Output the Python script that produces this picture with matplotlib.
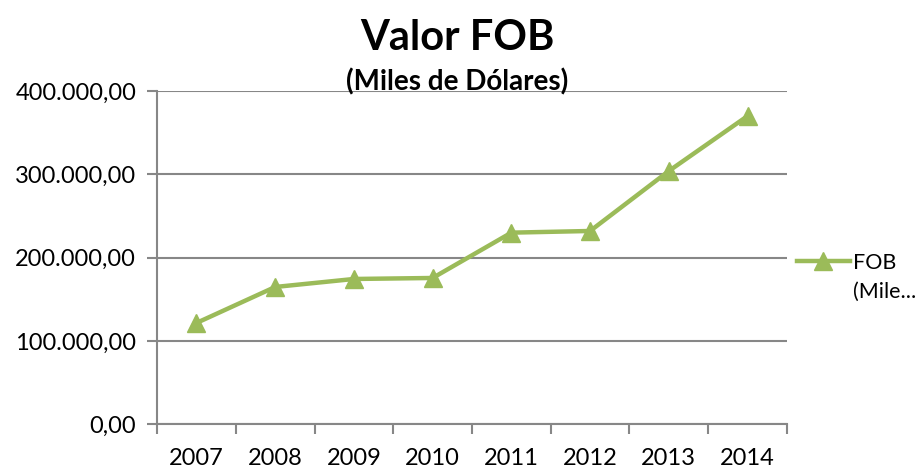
import matplotlib
matplotlib.use("Agg")
import matplotlib.pyplot as plt
from matplotlib.ticker import FuncFormatter, FixedLocator

years = ['2007', '2008', '2009', '2010', '2011', '2012', '2013', '2014']
fob = [121600, 164800, 174400, 175600, 230000, 232000, 304000, 370000]

plt.rcParams['font.family'] = ['Lato', 'DejaVu Sans']
green = '#9BBB59'
grey = '#878787'

fig = plt.figure(figsize=(9.2, 4.69), dpi=100)
ax = fig.add_axes([0.1707, 0.0953, 0.6847, 0.7107])

x = list(range(len(years)))
ax.plot(x, fob, color=green, lw=3.2, marker='^', ms=13, mec=green, mfc=green,
        label='FOB')

ax.set_xlim(-0.5, len(years) - 0.5)
ax.set_ylim(0, 400000)
ax.set_yticks([0, 100000, 200000, 300000, 400000])
ax.yaxis.set_major_formatter(FuncFormatter(
    lambda v, p: f"{v:,.2f}".replace(',', 'X').replace('.', ',').replace('X', '.')))
ax.xaxis.set_major_locator(FixedLocator([i - 0.5 for i in range(len(years) + 1)]))
ax.xaxis.set_minor_locator(FixedLocator(x))
ax.set_xticklabels([])
ax.set_xticklabels(years, minor=True)
ax.tick_params(axis='x', which='minor', length=0, labelsize=17, pad=17)
ax.tick_params(axis='x', which='major', length=7, width=1.5, color=grey)
ax.tick_params(axis='y', length=7, width=1.5, color=grey, labelsize=17, pad=8)

ax.grid(axis='y', color=grey, lw=1.5)
ax.set_axisbelow(True)
for s in ['top', 'right']:
    ax.spines[s].set_visible(False)
for s in ['left', 'bottom']:
    ax.spines[s].set_color(grey)
    ax.spines[s].set_linewidth(1.5)

fig.text(0.497, 0.92, 'Valor FOB', ha='center', va='center', fontsize=30, fontweight='bold')
fig.text(0.497, 0.825, '(Miles de Dólares)', ha='center', va='center', fontsize=20, fontweight='bold')

# legend: handle + first line, truncated second line below it (Excel style)
fig.legend(loc='center left', bbox_to_anchor=(797 / 920, 1 - 263 / 469), frameon=False,
           fontsize=15.5, handlelength=2.45, handletextpad=0.15, borderpad=0, borderaxespad=0)
fig.text(853 / 920, 1 - 292 / 469, '(Mile...', ha='left', va='center', fontsize=15.5)

fig.savefig('out.png', dpi=100)
